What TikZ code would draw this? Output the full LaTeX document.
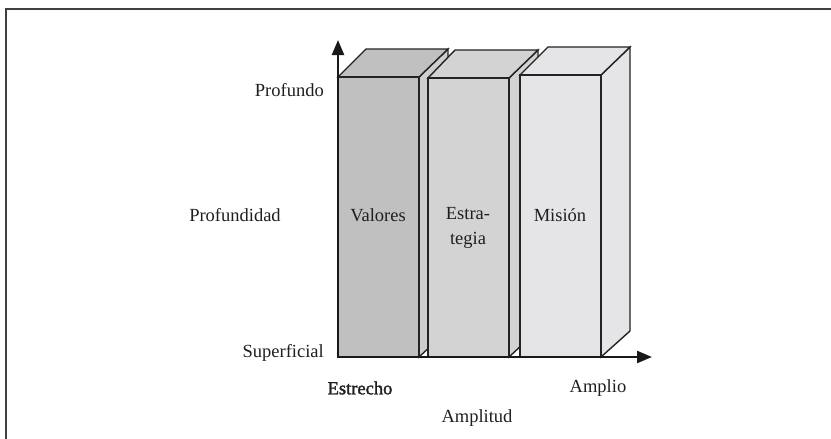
\documentclass[tikz,border=0pt]{standalone}
\usepackage{fontspec}
\setmainfont{Liberation Serif}
\newfontfamily\darkserif[FakeBold=1.6]{Liberation Serif}
\usetikzlibrary{arrows.meta}
\definecolor{cOne}{RGB}{192,192,193}
\definecolor{cOneSide}{RGB}{206,206,207}
\definecolor{cTwo}{RGB}{211,211,212}
\definecolor{cThree}{RGB}{229,229,231}
\definecolor{edge}{RGB}{35,35,35}
\begin{document}
\begin{tikzpicture}[x=1pt,y=-1pt,
  face/.style={draw=edge,line width=1.4pt,line join=miter},
  lbl/.style={font=\fontsize{18.5}{22}\selectfont,inner sep=0pt,text=black!88},
  axis/.style={draw=black!90,line width=2.4pt,-{Triangle[length=15pt,width=12pt]}}]
\useasboundingbox (0,0) rectangle (831,439);
% frame
\draw[black!75,line width=1.3pt] (6,439) -- (6,9) -- (831,9);
% box 1 (Valores)
\filldraw[face,fill=cOneSide] (419,77) -- (448,49) -- (448,330) -- (419,357) -- cycle;
\filldraw[face,fill=cOne] (338,77) -- (366,49) -- (448,49) -- (419,77) -- cycle;
\filldraw[face,fill=cOne] (338,77) rectangle (419,357);
% box 2 (Estrategia)
\filldraw[face,fill=cTwo] (509,78) -- (538,50) -- (538,330) -- (509,357) -- cycle;
\filldraw[face,fill=cTwo] (428,78) -- (455,50) -- (538,50) -- (509,78) -- cycle;
\filldraw[face,fill=cTwo] (428,78) rectangle (509,357);
% box 3 (Mision)
\filldraw[face,fill=cThree] (601,75) -- (630,47) -- (630,331) -- (601,357) -- cycle;
\filldraw[face,fill=cThree] (520,75) -- (548,47) -- (630,47) -- (601,75) -- cycle;
\filldraw[face,fill=cThree] (520,75) rectangle (601,357);
% axes
\coordinate (o) at (338,357);
\coordinate (ytip) at (338,40);
\coordinate (xtip) at (652,357);
\draw[axis] (o) -- (ytip);
\draw[axis] (o) -- (xtip);
% labels
\node[lbl,anchor=east] (profundo) at (324,90) {Profundo};
\node[lbl] (profundidad) at (235,215) {Profundidad};
\node[lbl,anchor=east] (superficial) at (324,353) {Superficial};
\node[lbl,font=\fontsize{18.5}{22}\darkserif] (estrecho) at (360,388) {Estrecho};
\node[lbl] (amplio) at (598,388) {Amplio};
\node[lbl] (amplitud) at (477,418) {Amplitud};
\node[lbl] (valores) at (378,215) {Valores};
\node[lbl,align=center,font=\fontsize{18.5}{25}\selectfont] (estrategia) at (468,228) {Estra-\\tegia};
\node[lbl] (mision) at (560,215) {Misión};
\end{tikzpicture}
\end{document}
